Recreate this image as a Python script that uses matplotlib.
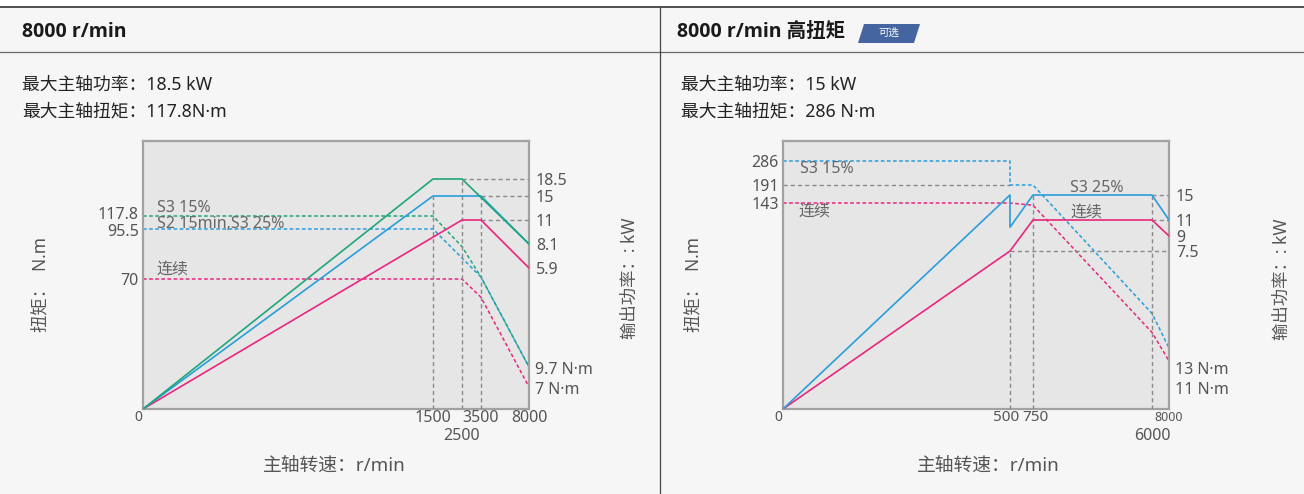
import numpy as np
import matplotlib
matplotlib.use("Agg")
import matplotlib.pyplot as plt
from matplotlib.lines import Line2D
from matplotlib.patches import Polygon, Rectangle
from matplotlib.transforms import ScaledTranslation

plt.rcParams['font.family'] = ['Noto Sans', 'Noto Sans CJK SC', 'DejaVu Sans']

W, H = 1304, 494

GREEN = '#1fa67a'
BLUE = '#2a9ddb'
PINK = '#e8277c'
GRID = '#8a8a8a'
TXT = '#555555'

# ---------------- left chart: 8000 r/min ----------------
L_speed_ticks = [1500, 3500, 8000]
L_speed_ticks_low = [2500]
L_torque_ticks = [70, 95.5, 117.8]
L_power_ticks = [5.9, 8.1, 11, 15, 18.5]

# power curves (kW)
L_s3_15_speed = [0, 1500, 2500, 8000]
L_s3_15_power = [0, 18.5, 18.5, 8.1]
L_s2_speed = [0, 1500, 3500, 8000]
L_s2_power = [0, 15, 15, 8.1]
L_cont_speed = [0, 2500, 3500, 8000]
L_cont_power = [0, 11, 11, 5.9]
# torque curves (N·m)
L_s3_15_tspeed = [0, 1500, 2500, 3500, 8000]
L_s3_15_torque = [117.8, 117.8, 86.5, 71, 9.7]
L_s2_tspeed = [0, 1500, 3500, 8000]
L_s2_torque = [95.5, 95.5, 71, 9.7]
L_cont_tspeed = [0, 2500, 3500, 8000]
L_cont_torque = [70, 70, 57.5, 7]

# ---------------- right chart: 8000 r/min high torque ----------------
R_speed_ticks = [500, 750]
R_speed_ticks_low = [6000]
R_torque_ticks = [143, 191, 286]
R_power_ticks = [7.5, 9, 11, 15]

R_s3_25_speed = [0, 500, 500, 750, 6000, 8000]
R_s3_25_power = [0, 15, 10.1, 15, 15, 11]
R_cont_speed = [0, 500, 750, 6000, 8000]
R_cont_power = [0, 7.5, 11, 11, 9]
R_s3_25_tspeed = [0, 500, 500, 750, 6000, 8000]
R_s3_25_torque = [286, 286, 191, 191, 44, 13]
R_cont_tspeed = [0, 500, 750, 6000, 8000]
R_cont_torque = [143, 143, 141, 27, 11]


def fx(px):
    return px / W


def fy(py):
    return 1 - py / H


# schematic (non linear) axes: piecewise linear between knots
def knots(values, pix, p0, p1):
    v = np.asarray(values, float)
    p = (np.asarray(pix, float) - p0) / (p1 - p0)
    return (lambda x: np.interp(x, v, p), lambda y: np.interp(y, p, v))


def nudge(label, dx_px, dy_px):
    label.set_transform(label.get_transform() +
                        ScaledTranslation(dx_px / 100, dy_px / 100, fig.dpi_scale_trans))


fig = plt.figure(figsize=(W / 100, H / 100), dpi=100)
fig.patch.set_facecolor('#f6f6f6')

# frame of the two panels
fig.add_artist(Rectangle((0, fy(7)), 1, 7 / H, transform=fig.transFigure,
                         facecolor='white', edgecolor='none'))
fig.add_artist(Line2D([0, 1], [fy(7), fy(7)], color='#333333', lw=1.2))
fig.add_artist(Line2D([0, 1], [fy(52), fy(52)], color='#6a6a6a', lw=0.9))
fig.add_artist(Line2D([fx(660), fx(660)], [fy(7), 0], color='#444444', lw=0.9))

# headers
head_font = ['Open Sans', 'Noto Sans CJK SC', 'DejaVu Sans']
fig.text(fx(22), fy(32), '8000 r/min', fontsize=14, weight='bold', family=head_font,
         color='#1a1a1a', va='center')
fig.text(fx(677), fy(32), '8000 r/min 高扭矩', fontsize=14, weight='bold',
         family=head_font, color='#1a1a1a', va='center')
fig.add_artist(Polygon([(fx(858), fy(43)), (fx(864), fy(24)), (fx(920), fy(24)),
                        (fx(914), fy(43))], closed=True, transform=fig.transFigure,
                       facecolor='#4565a0', edgecolor='none'))
fig.text(fx(889), fy(33.5), '可选', fontsize=7.5, color='white',
         ha='center', va='center')

fig.text(fx(22), fy(85), '最大主轴功率：18.5 kW', fontsize=12.8, color='#222222', va='center')
fig.text(fx(22), fy(111), '最大主轴扭矩：117.8N·m', fontsize=12.8, color='#222222', va='center')
fig.text(fx(681), fy(85), '最大主轴功率：15 kW', fontsize=12.8, color='#222222', va='center')
fig.text(fx(681), fy(111), '最大主轴扭矩：286 N·m', fontsize=12.8, color='#222222', va='center')


def make_axes(left_px):
    ax = fig.add_axes([fx(left_px), fy(409), 386 / W, 268 / H])
    ax.set_facecolor('#e6e6e6')
    for s in ax.spines.values():
        s.set_color('#a2a2a2')
        s.set_linewidth(1.6)
    ax2 = ax.twinx()
    for s in ax2.spines.values():
        s.set_visible(False)
    ax.tick_params(which='both', length=0, labelsize=11.5, labelcolor=TXT, pad=3)
    ax.tick_params(axis='x', which='major', pad=1)
    ax.tick_params(axis='x', which='minor', pad=14)
    ax2.tick_params(length=0, labelsize=11.5, labelcolor=TXT, pad=5)
    return ax, ax2


dash = (0, (2.4, 1.6))
gdash = (0, (3, 2.2))

# ======== left chart ========
ax, ax2 = make_axes(143)
ax.set_xscale('function', functions=knots([0, 1500, 2500, 3500, 8000],
                                          [143, 433, 462, 481, 529], 143, 529))
ax.set_xlim(0, 8000)
ax.set_yscale('function', functions=knots([0, 7, 9.7, 70, 95.5, 117.8, 140],
                                          [409, 387, 367, 279, 229, 216, 141], 409, 141))
ax.set_ylim(0, 140)
ax2.set_yscale('function', functions=knots([0, 5.9, 8.1, 11, 15, 18.5, 22],
                                           [409, 268, 244, 220, 196, 179, 141], 409, 141))
ax2.set_ylim(0, 22)

ax.set_xticks(L_speed_ticks, labels=[str(v) for v in L_speed_ticks])
ax.set_xticks(L_speed_ticks_low, labels=[str(v) for v in L_speed_ticks_low], minor=True)
ax.set_yticks(L_torque_ticks, labels=['70', '95.5', '117.8'])
ax.set_yticks([], minor=True)
ax2.set_yticks(L_power_ticks, labels=['5.9', '8.1', '11', '15', '18.5'])
# the two top torque labels sit very close: pull them apart a little
nudge(ax.get_yticklabels()[2], 0, 3)
nudge(ax.get_yticklabels()[1], 0, -1.5)

# guides
ax2.vlines([1500, 3500], 0, 15, colors=GRID, lw=1, linestyles=gdash)
ax2.vlines(2500, 0, 18.5, colors=GRID, lw=1, linestyles=gdash)
ax2.hlines(18.5, 2500, 8000, colors=GRID, lw=1, linestyles=gdash)
ax2.hlines([15, 11], 3500, 8000, colors=GRID, lw=1, linestyles=gdash)

ax.plot(L_cont_tspeed, L_cont_torque, color=PINK, lw=1.1, ls=dash)
ax.plot(L_s2_tspeed, L_s2_torque, color=BLUE, lw=1.1, ls=dash)
ax.plot(L_s3_15_tspeed, L_s3_15_torque, color=GREEN, lw=1.1, ls=dash)
ax2.plot(L_cont_speed, L_cont_power, color=PINK, lw=1.2)
ax2.plot(L_s2_speed, L_s2_power, color=BLUE, lw=1.2)
ax2.plot(L_s3_15_speed, L_s3_15_power, color=GREEN, lw=1.2)

ax.text(0.036, (409 - 216) / 268, 'S3 15%', transform=ax.transAxes, fontsize=11.5,
        color='#666666', va='bottom')
ax.text(0.036, (409 - 216) / 268, 'S2 15min,S3 25%', transform=ax.transAxes,
        fontsize=11.5, color='#666666', va='top')
ax.text(0.036, (409 - 270) / 268, '连续', transform=ax.transAxes, fontsize=11.5,
        color='#666666', va='center')
ax.text(1.016, (409 - 370) / 268, '9.7 N·m', transform=ax.transAxes, fontsize=11.5,
        color=TXT, va='center')
ax.text(1.016, (409 - 390) / 268, '7 N·m', transform=ax.transAxes, fontsize=11.5,
        color=TXT, va='center')
ax.text(-0.013, -0.03, '0', transform=ax.transAxes, fontsize=10, color=TXT,
        ha='center', va='center')

fig.text(fx(40), fy(284), '扭矩：  N.m', rotation=90, fontsize=12.5, color=TXT,
         ha='center', va='center')
fig.text(fx(630), fy(278), '输出功率：: kW', rotation=90, fontsize=12.5, color=TXT,
         ha='center', va='center')
fig.text(fx(334), fy(466), '主轴转速：r/min', fontsize=13.5, color=TXT,
         ha='center', va='center')

# ======== right chart ========
bx, bx2 = make_axes(783)
bx.set_xscale('function', functions=knots([0, 500, 750, 6000, 8000],
                                          [783, 1010, 1033, 1152, 1169], 783, 1169))
bx.set_xlim(0, 8000)
bx.set_yscale('function', functions=knots([0, 11, 13, 143, 191, 286, 330],
                                          [409, 361, 348, 203, 185, 161, 141], 409, 141))
bx.set_ylim(0, 330)
bx2.set_yscale('function', functions=knots([0, 7.5, 9, 11, 15, 20],
                                           [409, 251, 236, 220, 195, 141], 409, 141))
bx2.set_ylim(0, 20)

bx.set_xticks(R_speed_ticks, labels=[str(v) for v in R_speed_ticks])
bx.set_xticks(R_speed_ticks_low, labels=[str(v) for v in R_speed_ticks_low], minor=True)
bx.tick_params(axis='x', which='major', labelsize=11)
nudge(bx.get_xticklabels()[0], -4, 0)
nudge(bx.get_xticklabels()[1], 2.5, 0)
bx.set_yticks(R_torque_ticks, labels=['143', '191', '286'])
bx.set_yticks([], minor=True)
bx2.set_yticks(R_power_ticks, labels=['7.5', '9', '11', '15'])
bx.text(1.0, -0.033, '8000', transform=bx.transAxes, fontsize=9, color=TXT,
        ha='center', va='center')

bx.hlines(191, 0, 500, colors=GRID, lw=1, linestyles=gdash)
bx2.vlines(500, 0, 7.5, colors=GRID, lw=1, linestyles=gdash)
bx2.vlines([750, 6000], 0, 15, colors=GRID, lw=1, linestyles=gdash)
bx2.hlines([15, 11], 6000, 8000, colors=GRID, lw=1, linestyles=gdash)
bx2.hlines(7.5, 500, 8000, colors=GRID, lw=1, linestyles=gdash)

bx.plot(R_cont_tspeed, R_cont_torque, color=PINK, lw=1.1, ls=dash)
bx.plot(R_s3_25_tspeed, R_s3_25_torque, color=BLUE, lw=1.1, ls=dash)
bx2.plot(R_cont_speed, R_cont_power, color=PINK, lw=1.2)
bx2.plot(R_s3_25_speed, R_s3_25_power, color=BLUE, lw=1.2)

bx.text((800 - 783) / 386, (409 - 169) / 268, 'S3 15%', transform=bx.transAxes,
        fontsize=11.5, color='#666666', va='center')
bx.text((798 - 783) / 386, (409 - 211.5) / 268, '连续', transform=bx.transAxes,
        fontsize=11.5, color='#666666', va='center')
bx.text((1070 - 783) / 386, (409 - 188) / 268, 'S3 25%', transform=bx.transAxes,
        fontsize=11.5, color='#666666', va='center')
bx.text((1070 - 783) / 386, (409 - 213) / 268, '连续', transform=bx.transAxes,
        fontsize=11.5, color='#666666', va='center')
bx.text(1.016, (409 - 370) / 268, '13 N·m', transform=bx.transAxes, fontsize=11.5,
        color=TXT, va='center')
bx.text(1.016, (409 - 390) / 268, '11 N·m', transform=bx.transAxes, fontsize=11.5,
        color=TXT, va='center')
bx.text(-0.013, -0.03, '0', transform=bx.transAxes, fontsize=10, color=TXT,
        ha='center', va='center')

fig.text(fx(693), fy(284), '扭矩：  N.m', rotation=90, fontsize=12.5, color=TXT,
         ha='center', va='center')
fig.text(fx(1282), fy(279), '输出功率：: kW', rotation=90, fontsize=12.5, color=TXT,
         ha='center', va='center')
fig.text(fx(988), fy(466), '主轴转速：r/min', fontsize=13.5, color=TXT,
         ha='center', va='center')

fig.savefig('out.png', dpi=100, facecolor=fig.get_facecolor())
